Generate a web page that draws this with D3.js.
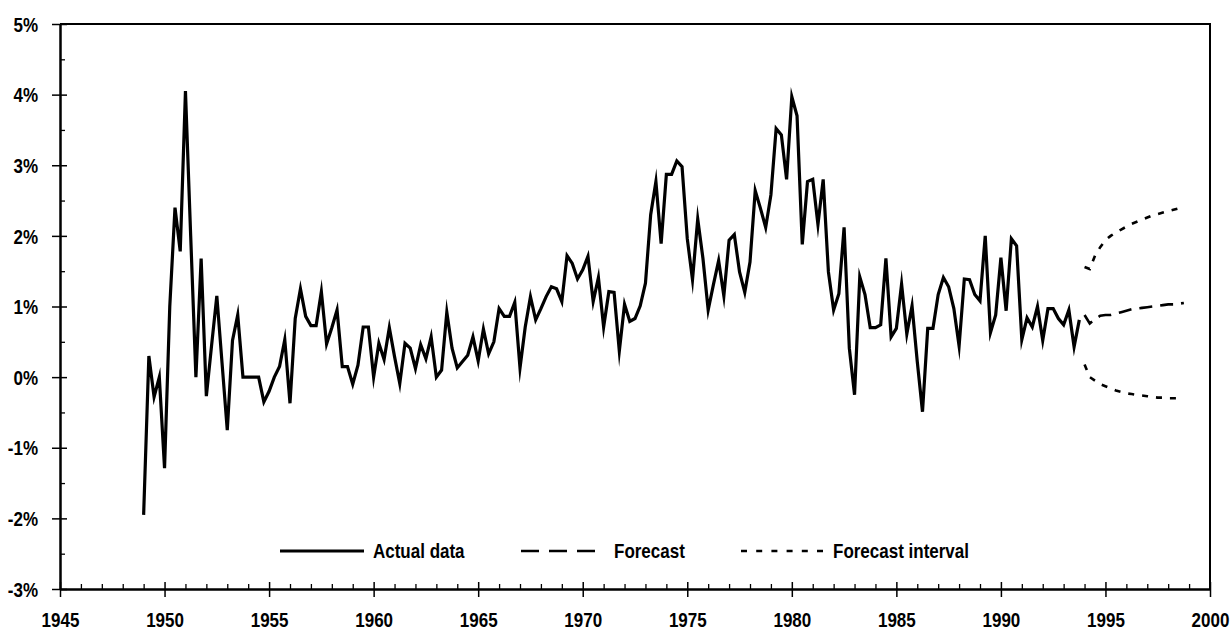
<!DOCTYPE html>
<html><head><meta charset="utf-8">
<script src="https://cdn.jsdelivr.net/npm/d3@7"></script>
<style>body{margin:0;background:#fff}svg{display:block}</style>
</head><body>
<svg id="c" width="1232" height="632"></svg>
<script>
// ---- data (quarterly, percent) ----
const actualStart = 1949.0;
const actualValues = [
 -1.95,0.30,-0.28,0.00,-1.29,1.00,2.40,1.78,4.05,2.00,
 0.00,1.68,-0.27,0.45,1.15,0.20,-0.75,0.52,0.88,0.00,
 0.00,0.00,0.00,-0.35,-0.20,0.00,0.15,0.53,-0.37,0.83,
 1.25,0.86,0.73,0.73,1.21,0.47,0.70,0.95,0.15,0.15,
 -0.10,0.17,0.71,0.71,0.00,0.48,0.25,0.70,0.29,-0.09,
 0.48,0.41,0.12,0.46,0.26,0.57,0.00,0.10,0.92,0.41,
 0.13,0.22,0.31,0.57,0.23,0.68,0.33,0.50,0.97,0.86,
 0.86,1.06,0.13,0.71,1.14,0.81,0.97,1.14,1.28,1.25,
 1.07,1.72,1.61,1.39,1.52,1.71,1.07,1.41,0.71,1.21,
 1.20,0.37,1.03,0.79,0.83,1.01,1.33,2.30,2.77,1.89,
 2.87,2.87,3.06,2.98,1.96,1.38,2.24,1.68,0.95,1.31,
 1.65,1.15,1.94,2.02,1.49,1.20,1.63,2.64,2.39,2.12,
 2.58,3.52,3.43,2.80,3.97,3.70,1.88,2.77,2.80,2.16,
 2.80,1.49,0.95,1.18,2.12,0.41,-0.25,1.42,1.17,0.70,
 0.70,0.74,1.68,0.57,0.69,1.32,0.61,1.01,0.22,-0.49,
 0.69,0.69,1.17,1.41,1.28,0.97,0.44,1.39,1.38,1.17,
 1.08,2.00,0.63,0.88,1.69,0.94,1.96,1.86,0.53,0.84,
 0.71,1.00,0.52,0.97,0.97,0.83,0.74,0.95,0.43,0.81
];
const forecastStart = 1994.0;
const forecastValues = [0.88,0.76,0.82,0.87,0.88,0.88,0.90,0.92,0.94,0.96,
 0.97,0.98,0.99,1.00,1.01,1.02,1.03,1.03,1.04,1.05];
const upperValues = [1.56,1.53,1.72,1.84,1.94,2.00,2.05,2.09,2.13,2.17,
 2.20,2.23,2.26,2.29,2.31,2.33,2.35,2.37,2.39,2.41];
const lowerValues = [0.18,0.00,-0.05,-0.10,-0.13,-0.16,-0.19,-0.21,-0.23,-0.24,
 -0.25,-0.26,-0.27,-0.28,-0.29,-0.29,-0.30,-0.30,-0.30,-0.31];
const yMajor = [-3,-2,-1,0,1,2,3,4,5];
const yMinor = [-2.5,-1.5,-0.5,0.5,1.5,2.5,3.5,4.5];
const xMajor = [1945,1950,1955,1960,1965,1970,1975,1980,1985,1990,1995,2000];
const xMinor = d3.range(1946,2000).filter(v => v % 5 !== 0);
const legendItems = ["Actual data","Forecast","Forecast interval"];

// ---- layout ----
const X0 = 60, X1 = 1210, Y0 = 24, Y1 = 589;
const FONT = "'Liberation Sans', Arial, sans-serif";
const svg = d3.select("#c");
const x = d3.scaleLinear().domain([1945,2000]).range([X0,X1]);
const y = d3.scaleLinear().domain([-3,5]).range([Y1,Y0]);

const toPts = (start, vals) => vals.map((v,i)=>({t:start+i*0.25, v}));
const line = d3.line().x(d=>x(d.t)).y(d=>y(d.v));

// frame (top & right)
svg.append("path")
  .attr("d", `M${X0},${Y0}H${X1}V${Y1}`)
  .attr("fill","none").attr("stroke","#000").attr("stroke-width",2);

// x axis
const gx = svg.append("g").attr("transform",`translate(0,${Y1})`);
gx.call(d3.axisBottom(x).tickValues(xMinor).tickSize(-5).tickSizeOuter(0).tickFormat(""))
  .call(g=>g.selectAll("line").attr("stroke-width",1.3));
const gxM = svg.append("g").attr("transform",`translate(0,${Y1})`);
gxM.call(d3.axisBottom(x).tickValues(xMajor).tickSize(8).tickSizeOuter(0).tickFormat(d3.format("d")));
gxM.selectAll("line").attr("y1",-7).attr("y2",8).attr("stroke-width",1.5);
gx.select(".domain").attr("stroke-width",2);
gxM.select(".domain").attr("stroke-width",2);
gxM.selectAll("text")
  .attr("y",38).attr("dy",0)
  .attr("transform","scale(0.85,1)")
  .style("font-family",FONT).style("font-size","20px").style("font-weight","bold").attr("fill","#000");

// y axis
const gy = svg.append("g").attr("transform",`translate(${X0},0)`);
gy.call(d3.axisLeft(y).tickValues(yMinor).tickSize(-5).tickSizeOuter(0).tickFormat(""))
  .call(g=>g.selectAll("line").attr("stroke-width",1.3));
const gyM = svg.append("g").attr("transform",`translate(${X0},0)`);
gyM.call(d3.axisLeft(y).tickValues(yMajor).tickSize(8).tickSizeOuter(0).tickFormat(d=>d+"%"));
gyM.selectAll("line").attr("x1",7).attr("x2",-8).attr("stroke-width",1.5);
gy.select(".domain").attr("stroke-width",2);
gyM.select(".domain").attr("stroke-width",2);
gyM.selectAll("text")
  .attr("x",0).attr("dy","0.36em")
  .attr("transform","translate(-22,0) scale(0.85,1)")
  .style("font-family",FONT).style("font-size","20px").style("font-weight","bold").attr("fill","#000");

// series
svg.append("path").datum(toPts(actualStart, actualValues))
  .attr("d",line).attr("fill","none").attr("stroke","#000")
  .attr("stroke-width",3.2).attr("stroke-linejoin","miter").attr("stroke-miterlimit",10);
svg.append("path").datum(toPts(forecastStart, forecastValues))
  .attr("d",line).attr("fill","none").attr("stroke","#000")
  .attr("stroke-width",2.6).attr("stroke-dasharray","13,8");
[upperValues, lowerValues].forEach(vals=>{
  svg.append("path").datum(toPts(forecastStart, vals))
    .attr("d",line).attr("fill","none").attr("stroke","#000")
    .attr("stroke-width",2.6).attr("stroke-dasharray","6,8");
});

// legend
const legY = 551;
const leg = [
  {x1:280, x2:364, dash:null, w:3.2, tx:373},
  {x1:521, x2:595, dash:"18,10", w:2.4, tx:614},
  {x1:741, x2:823, dash:"6,9.2", w:2.4, tx:833}
];
leg.forEach((l,i)=>{
  svg.append("line").attr("x1",l.x1).attr("x2",l.x2).attr("y1",legY).attr("y2",legY)
    .attr("stroke","#000").attr("stroke-width",l.w).attr("stroke-dasharray",l.dash);
  svg.append("text").attr("transform",`translate(${l.tx},${legY+7}) scale(0.85,1)`)
    .style("font-family",FONT).style("font-size","20px").style("font-weight","bold")
    .text(legendItems[i]);
});
</script>
</body></html>
